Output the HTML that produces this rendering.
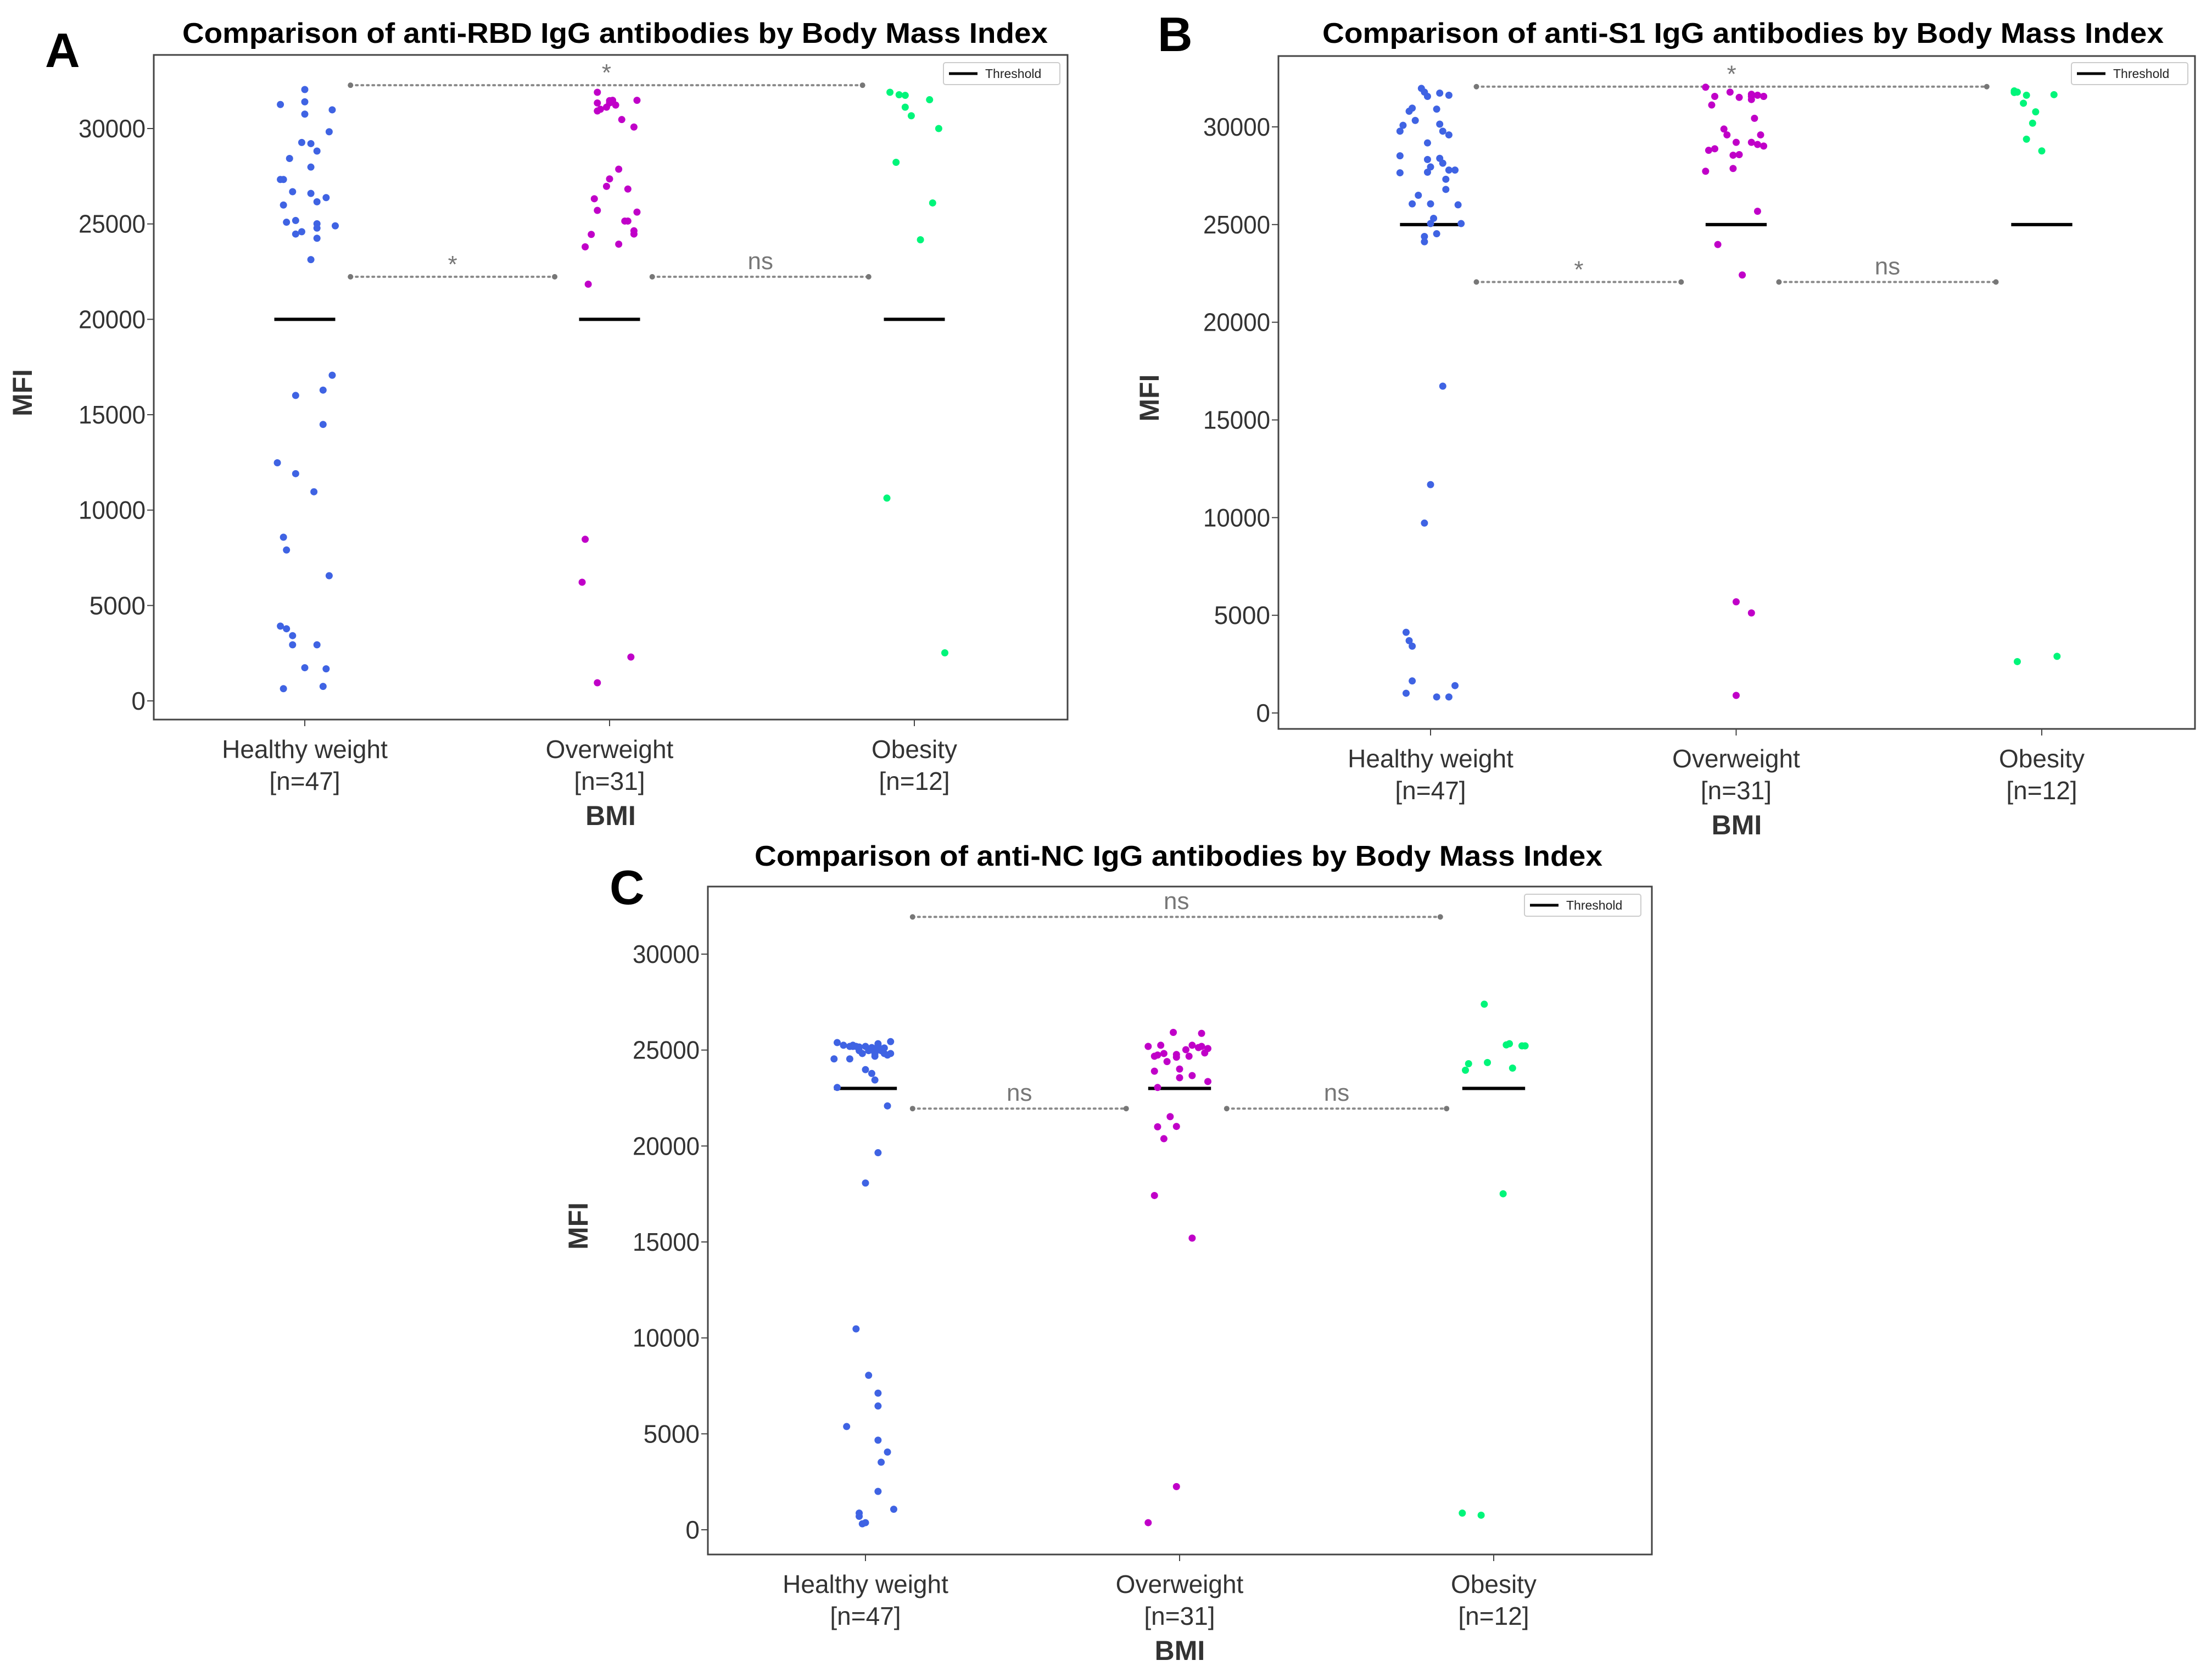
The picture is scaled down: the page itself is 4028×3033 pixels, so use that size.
<!DOCTYPE html>
<html><head><meta charset="utf-8"><style>
html,body{margin:0;padding:0;background:#fff;}
svg{display:block;}
text{font-family:"Liberation Sans",sans-serif;}
</style></head><body>
<svg id="fig" width="4028" height="3033" viewBox="0 0 4028 3033" xmlns="http://www.w3.org/2000/svg"></svg>
<script>
// ---------- DATA ----------
const categories = ["Healthy weight","Overweight","Obesity"];
const catCounts = ["[n=47]","[n=31]","[n=12]"];
const yTicks = [0,5000,10000,15000,20000,25000,30000];

// Panel A: anti-RBD
const rbdHealthy = [32044,31260,31400,30755,30980,29830,29270,29210,28820,28430,27980,27330,27330,26690,26600,26380,26160,25990,25090,25180,24470,24590,25010,24780,24900,24250,23130,17070,16010,16290,14490,12480,11910,10960,8580,7910,6560,3920,3780,3420,2940,2940,1740,1680,640,760];
const rbdHealthyJit = [0,-.08,0,0,.09,.08,-.01,.02,.04,-.05,.02,-.08,-.07,-.04,.02,.07,.04,-.07,-.06,-.03,-.03,-.01,.04,.04,.1,.04,.02,.09,-.03,.06,.06,-.09,-.03,.03,-.07,-.06,.08,-.08,-.06,-.04,-.04,.04,0,.07,-.07,.06];
const rbdOver = [31900,31340,31010,30920,31340,31480,31230,31480,30470,30080,27870,27360,26970,26830,26320,25710,25620,25150,25150,24640,24470,24450,23940,23800,21840,8470,6220,2300,950,31460,31120];
const rbdOverJit = [-.04,-.04,-.03,-.04,0,.01,.02,.09,.04,.08,.03,0,-.01,.06,-.05,-.04,.09,.05,.06,.08,.08,-.06,.03,-.08,-.07,-.08,-.09,.07,-.04,0,-.01];
const rbdObese = [31900,31770,31740,31510,31120,30670,30000,28230,26100,24170,10630,2520];
const rbdObeseJit = [-.08,-.05,-.03,.05,-.03,-.01,.08,-.06,.06,.02,-.09,.1];
const rbdThreshold = 20000;
const rbdSig = [["*",0.15,1.83,32270],["*",0.15,0.82,22230],["ns",1.14,1.85,22230]];

// Panel B: anti-S1
const s1Healthy = [31970,31780,31560,31730,31620,30960,30800,30910,30080,30330,29780,30140,29780,29590,29180,28520,28330,28390,28140,27950,27680,27650,27790,27790,27320,26800,26500,26060,26060,26010,25320,25050,24390,24120,24530,25050,16730,11690,9720,4130,3700,3420,1640,1010,1400,820,820];
const s1HealthyJit = [-.03,-.02,-.01,.03,.06,-.06,-.07,.02,-.09,-.05,-.1,.03,.04,.06,-.01,-.1,-.01,.03,.04,0,-.01,-.1,.06,.08,.05,.05,-.04,-.06,0,.09,.01,0,-.02,-.02,.02,.1,.04,0,-.02,-.08,-.07,-.06,-.06,-.08,.08,.02,.06];
const s1Over = [32030,31560,31120,31780,31510,31670,31400,31560,30440,29890,29590,28880,28800,29210,29590,29210,29020,28550,28580,27870,27730,25680,23980,22420,5690,5120,900,31560,31620,29100,31560];
const s1OverJit = [-.1,-.07,-.08,-.02,.01,.05,.05,.09,.06,-.04,-.03,-.07,-.09,0,.08,.05,.09,-.01,.01,-.01,-.1,.07,-.06,.02,0,.05,0,.05,.07,.07,.09];
const s1Obese = [31840,31780,31620,31650,31210,30770,30190,29370,28770,2630,2900,31760];
const s1ObeseJit = [-.09,-.08,-.05,.04,-.06,-.02,-.03,-.05,0,-.08,.05,-.09];
const s1Threshold = 25000;
const s1Sig = [["*",0.15,1.82,32060],["*",0.15,0.82,22060],["ns",1.14,1.85,22060]];

// Panel C: anti-NC
const ncHealthy = [25390,25190,25250,25160,25190,25130,25250,25330,24970,25110,25440,24820,24740,24820,24680,24970,24540,24540,25020,24820,24970,25190,25250,23980,23780,23440,23050,22090,19650,18070,10470,8050,7120,6450,5380,4670,4050,3520,2000,1070,870,700,310,370,25190,24820,25020];
const ncHealthyJit = [-.09,-.05,-.04,-.02,0,.02,.04,.04,.05,.06,.08,.08,.07,.06,.03,.01,-.1,-.05,.04,.03,-.02,-.03,-.07,0,.02,.03,-.09,.07,.04,0,-.03,.01,.04,.04,-.06,.04,.07,.05,.04,.09,-.02,-.02,-.01,0,-.04,-.01,.02];
const ncOver = [25190,25250,24820,24680,24740,25920,25870,25250,25130,24850,25080,24770,24630,23900,24010,23560,23670,23360,23050,21530,21020,21000,20380,17420,15200,2250,370,25190,25020,24400,24680];
const ncOverJit = [-.1,-.06,-.05,-.08,-.07,-.02,.07,.04,.06,.08,.09,-.01,-.01,-.08,0,0,.04,.09,-.07,-.03,-.01,-.07,-.05,-.08,.04,-.01,-.1,.07,.02,-.04,.03];
const ncObese = [27390,25270,25330,25220,25220,24290,24350,23950,24060,17510,870,760];
const ncObeseJit = [-.03,.04,.05,.09,.1,-.08,-.02,-.09,.06,.03,-.1,-.04];
const ncThreshold = 23000;
const ncSig = [["ns",0.15,1.83,31940],["ns",0.15,0.83,21950],["ns",1.15,1.85,21950]];

const colors = ["#3f63e3","#c000c8","#00f57a"];

// ---------- DRAW ----------
const NS = "http://www.w3.org/2000/svg";
const svg = document.getElementById("fig");
function mk(tag, attrs, parent){
  const e = document.createElementNS(NS, tag);
  for (const k in attrs) e.setAttribute(k, attrs[k]);
  (parent||svg).appendChild(e);
  return e;
}

function panel(cfg){
  const g = mk("g", {});
  
  
  const xScale = i => cfg.cx0 + i*(cfg.cx2-cfg.cx0)/2;
  const sp = (cfg.cx2-cfg.cx0)/2;
  const yScale = v => cfg.y0 + v*(cfg.y30-cfg.y0)/30000;
  const fr = mk("rect",{x:cfg.L,y:cfg.T,width:cfg.R-cfg.L,height:cfg.B-cfg.T,fill:"none",stroke:"#444","stroke-width":3},g);
  
  
  yTicks.forEach(v=>{
    const y = yScale(v);
    mk("line",{x1:cfg.L-12,x2:cfg.L,y1:y,y2:y,stroke:"#444","stroke-width":2},g);
    const t = mk("text",{x:cfg.L-15,y:y+16,"text-anchor":"end","font-size":46,fill:"#333"},g);
    t.textContent = v;
    
    
    if (v>=10000) { t.setAttribute("textLength",122); t.setAttribute("lengthAdjust","spacingAndGlyphs"); }
  });
  categories.forEach((c,i)=>{
    const x = xScale(i);
    mk("line",{x1:x,x2:x,y1:cfg.B,y2:cfg.B+12,stroke:"#444","stroke-width":2},g);
    const t = mk("text",{x:x,y:cfg.B+70,"text-anchor":"middle","font-size":46,fill:"#333"},g);
    t.textContent = c;
    
    
    const t2 = mk("text",{x:x,y:cfg.B+128,"text-anchor":"middle","font-size":46,fill:"#333"},g);
    t2.textContent = catCounts[i];
    
    
  });
  const xt = mk("text",{x:(cfg.L+cfg.R)/2,y:cfg.B+192,"text-anchor":"middle","font-size":50,"font-weight":"bold",fill:"#333"},g);
  xt.textContent = "BMI";
  
  
  const ym = (cfg.T+cfg.B)/2 + 10;
  const yt = mk("text",{x:cfg.mfiX,y:ym,"text-anchor":"middle","font-size":50,"font-weight":"bold",fill:"#333",transform:`rotate(-90 ${cfg.mfiX} ${ym})`},g);
  yt.textContent = "MFI";
  
  
  const tt = mk("text",{x:cfg.titleX,y:cfg.titleY,"text-anchor":"middle","font-size":52,"font-weight":"bold",fill:"#000",textLength:cfg.titleW,lengthAdjust:"spacingAndGlyphs"},g);
  tt.textContent = cfg.title;
  
  
  const lt = mk("text",{x:cfg.letterX,y:cfg.letterY,"font-size":88,"font-weight":"bold",fill:"#000"},g);
  lt.textContent = cfg.letter;
  
  
  cfg.sig.forEach(s=>{
    const x1 = cfg.cx0 + s[1]*sp, x2 = cfg.cx0 + s[2]*sp, y = yScale(s[3]);
    const ln = mk("line",{x1:x1,x2:x2,y1:y,y2:y,stroke:"#8a8a8a","stroke-width":4,"stroke-dasharray":"3 7","stroke-linecap":"round"},g);
    
    
    mk("circle",{cx:x1,cy:y,r:5,fill:"#777"},g);
    mk("circle",{cx:x2,cy:y,r:5,fill:"#777"},g);
    const st = mk("text",{x:(x1+x2)/2,y:s[0]==="*"?y-8:y-14,"text-anchor":"middle","font-size":44,fill:"#777"},g);
    st.textContent = s[0];
    
    
  });
  [0,1,2].forEach(i=>{
    const x = xScale(i), y = yScale(cfg.threshold);
    const th = mk("line",{x1:x-0.1*sp,x2:x+0.1*sp,y1:y,y2:y,stroke:"#000","stroke-width":6},g);
    
    
  });
  cfg.series.forEach((vals,i)=>{
    const jit = cfg.jits[i];
    vals.forEach((v,k)=>{
      const c = mk("circle",{cx:xScale(i)+jit[k]*sp,cy:yScale(v),r:6.5,fill:colors[i]},g);
      
      
    });
  });
  const lg = mk("g",{},g);
  
  
  mk("rect",{x:cfg.legX,y:cfg.legY,width:212,height:40,rx:4,fill:"#fff",stroke:"#ccc","stroke-width":2},lg);
  mk("line",{x1:cfg.legX+10,x2:cfg.legX+62,y1:cfg.legY+20,y2:cfg.legY+20,stroke:"#000","stroke-width":5},lg);
  const ltx = mk("text",{x:cfg.legX+76,y:cfg.legY+28,"font-size":23,fill:"#222"},lg);
  ltx.textContent = "Threshold";
  
  
}

panel({name:"panel-a-rbd",letter:"A",letterX:82,letterY:122,title:"Comparison of anti-RBD IgG antibodies by Body Mass Index",titleX:1120,titleY:78,titleW:1576,
  L:280,R:1944,T:100,B:1310,y0:1276,y30:234,cx0:555,cx2:1665,mfiX:58,
  series:[rbdHealthy,rbdOver,rbdObese],jits:[rbdHealthyJit,rbdOverJit,rbdObeseJit],threshold:rbdThreshold,sig:rbdSig,legX:1718,legY:114});
panel({name:"panel-b-s1",letter:"B",letterX:2108,letterY:93,title:"Comparison of anti-S1 IgG antibodies by Body Mass Index",titleX:3174,titleY:78,titleW:1532,
  L:2328,R:3997,T:102,B:1327,y0:1298,y30:231,cx0:2605,cx2:3718,mfiX:2110,
  series:[s1Healthy,s1Over,s1Obese],jits:[s1HealthyJit,s1OverJit,s1ObeseJit],threshold:s1Threshold,sig:s1Sig,legX:3772,legY:114});
panel({name:"panel-c-nc",letter:"C",letterX:1110,letterY:1646,title:"Comparison of anti-NC IgG antibodies by Body Mass Index",titleX:2146,titleY:1576,titleW:1544,
  L:1289,R:3008,T:1614,B:2830,y0:2785,y30:1737,cx0:1576,cx2:2720,mfiX:1070,
  series:[ncHealthy,ncOver,ncObese],jits:[ncHealthyJit,ncOverJit,ncObeseJit],threshold:ncThreshold,sig:ncSig,legX:2776,legY:1628});
</script>
</body></html>
